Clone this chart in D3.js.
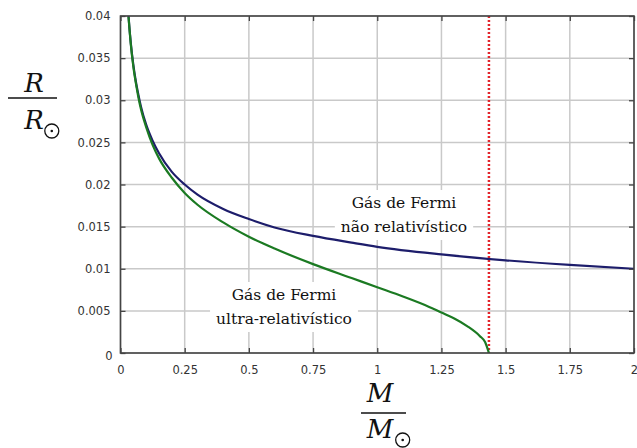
<!DOCTYPE html>
<html>
<head>
<meta charset="utf-8">
<script src="https://cdn.jsdelivr.net/npm/d3@7"></script>
<style>
  body { margin: 0; background: #fff; }
  .tick text { font-family: "DejaVu Sans", sans-serif; font-size: 11.5px; fill: #333; }
  .lbl { font-family: "DejaVu Serif", serif; font-size: 15.5px; fill: #111; }
  .axtitle { font-family: "DejaVu Serif", serif; font-style: italic; font-size: 26px; fill: #111; }
</style>
</head>
<body>
<script>
//// DATA
var massValues = [0.03125, 0.035, 0.04, 0.05, 0.06, 0.07, 0.08, 0.1, 0.125, 0.15, 0.2, 0.25, 0.3, 0.4, 0.5, 0.6, 0.75, 0.9, 1.0, 1.25, 1.5, 1.75, 2.0];
var radiusNonRel = [0.0400, 0.0385, 0.0368, 0.0342, 0.0322, 0.0306, 0.0292, 0.0271, 0.0252, 0.0237, 0.0215, 0.0200, 0.0188, 0.0171, 0.0159, 0.0149, 0.0139, 0.0131, 0.0126, 0.0117, 0.0110, 0.01045, 0.0100];

var massUltra = [0.03125, 0.04, 0.05, 0.06, 0.07, 0.08, 0.1, 0.125, 0.15, 0.2, 0.25, 0.3, 0.4, 0.5, 0.6, 0.75, 0.9, 1.0, 1.1, 1.2, 1.25, 1.3, 1.35, 1.4, 1.42, 1.435];
var radiusUltra = [0.0399, 0.0367, 0.0340, 0.0320, 0.0303, 0.0289, 0.0268, 0.0247, 0.0231, 0.0208, 0.0190, 0.0176, 0.0155, 0.0138, 0.0124, 0.01055, 0.0089, 0.0078, 0.0067, 0.0055, 0.0048, 0.0041, 0.0032, 0.0020, 0.0013, 0];

var chandraMass = 1.435;

var xTicks = [0, 0.25, 0.5, 0.75, 1, 1.25, 1.5, 1.75, 2];
var xTickLabels = ["0", "0.25", "0.5", "0.75", "1", "1.25", "1.5", "1.75", "2"];
var yTicks = [0, 0.005, 0.01, 0.015, 0.02, 0.025, 0.03, 0.035, 0.04];
var yTickLabels = ["0", "0.005", "0.01", "0.015", "0.02", "0.025", "0.03", "0.035", "0.04"];

var labelNonRel = ["Gás de Fermi", "não relativístico"];
var labelUltra = ["Gás de Fermi", "ultra-relativístico"];

//// LAYOUT
var margin = {top: 16, right: 3, bottom: 95, left: 120.5},
    width = 637 - margin.left - margin.right,
    height = 448 - margin.top - margin.bottom;

var xScale = d3.scaleLinear().domain([0, 2]).range([0, width]);
var yScale = d3.scaleLinear().domain([0, 0.04]).range([height, 0]);

var root = d3.select("body").append("svg")
    .attr("width", 637)
    .attr("height", 448);

var svg = root.append("g")
    .attr("transform", "translate(" + margin.left + "," + margin.top + ")");

svg.append("defs").append("clipPath").attr("id", "plotclip")
  .append("rect").attr("width", width).attr("height", height);

// Grid
svg.append("g").selectAll("line").data(xTicks).enter().append("line")
    .attr("x1", xScale).attr("x2", xScale)
    .attr("y1", 0).attr("y2", height)
    .attr("stroke", "#c9c9c9").attr("stroke-width", 1.5);
svg.append("g").selectAll("line").data(yTicks).enter().append("line")
    .attr("x1", 0).attr("x2", width)
    .attr("y1", yScale).attr("y2", yScale)
    .attr("stroke", "#c9c9c9").attr("stroke-width", 1.5);

// Text boxes (white background hides grid)
function textBlock(lines, cx, y0) {
  var g = svg.append("g");
  var bg = g.append("rect").attr("fill", "#fff");
  g.selectAll("text").data(lines).enter().append("text")
      .attr("class", "lbl")
      .attr("text-anchor", "middle")
      .attr("x", cx)
      .attr("y", function(d, i) { return y0 + i * 24; })
      .text(function(d) { return d; });
  var bb = g.node().getBBox();
  bg.attr("x", bb.x - 6).attr("y", bb.y - 4)
    .attr("width", bb.width + 12).attr("height", bb.height + 8);
}
textBlock(labelNonRel, 404 - margin.left, 208 - margin.top);
textBlock(labelUltra, 284 - margin.left, 300 - margin.top);

// Curves
var line = d3.line()
    .x(function(d) { return xScale(d[0]); })
    .y(function(d) { return yScale(d[1]); })
    .curve(d3.curveMonotoneX);

var curves = svg.append("g").attr("clip-path", "url(#plotclip)");

curves.append("line")
    .attr("x1", xScale(chandraMass)).attr("x2", xScale(chandraMass))
    .attr("y1", 0).attr("y2", height)
    .attr("stroke", "#e3242b").attr("stroke-width", 2.5)
    .attr("stroke-dasharray", "2,2");

curves.append("path")
    .datum(d3.zip(massValues, radiusNonRel))
    .attr("d", line)
    .attr("fill", "none").attr("stroke", "#1d1d6b").attr("stroke-width", 2.2);

curves.append("path")
    .datum(d3.zip(massUltra, radiusUltra))
    .attr("d", line)
    .attr("fill", "none").attr("stroke", "#1b7a22").attr("stroke-width", 2.2);

// Axes with inward ticks
var xAxis = d3.axisBottom(xScale).tickValues(xTicks)
    .tickFormat(function(d, i) { return xTickLabels[i]; })
    .tickSizeInner(-5).tickSizeOuter(0).tickPadding(13);
var yAxis = d3.axisLeft(yScale).tickValues(yTicks)
    .tickFormat(function(d, i) { return yTickLabels[i]; })
    .tickSizeInner(-5).tickSizeOuter(0).tickPadding(10);

var axBottom = svg.append("g")
    .attr("transform", "translate(0," + height + ")")
    .call(xAxis);
var axLeft = svg.append("g").call(yAxis);
var axTop = svg.append("g").call(d3.axisTop(xScale).tickValues(xTicks).tickFormat("")
    .tickSizeInner(-5).tickSizeOuter(0));
var axRight = svg.append("g").attr("transform", "translate(" + width + ",0)")
    .call(d3.axisRight(yScale).tickValues(yTicks).tickFormat("")
    .tickSizeInner(-5).tickSizeOuter(0));

[axBottom, axLeft, axTop, axRight].forEach(function(a) {
  a.select(".domain").remove();
  a.selectAll(".tick line").attr("stroke", "#444").attr("stroke-width", 1.3);
});
axLeft.selectAll(".tick").filter(function(d) { return d === 0; }).select("text")
    .attr("dy", "0.6em").attr("x", -8);

// Frame
svg.append("rect")
    .attr("width", width).attr("height", height)
    .attr("fill", "none").attr("stroke", "#444").attr("stroke-width", 1.6);

//// AXIS TITLES (fractions)
function fracTitle(sym, cx, yNum, yLine, yDen, x1, x2) {
  root.append("text").attr("class", "axtitle")
      .attr("x", cx).attr("y", yNum).attr("text-anchor", "middle").text(sym);
  root.append("line")
      .attr("x1", x1).attr("x2", x2).attr("y1", yLine).attr("y2", yLine)
      .attr("stroke", "#111").attr("stroke-width", 1.6);
  var den = root.append("text").attr("class", "axtitle")
      .attr("x", cx).attr("y", yDen).attr("text-anchor", "middle").text(sym);
  var bb = den.node().getBBox();
  var sx = bb.x + bb.width + 8, sy = yDen + 2;
  root.append("circle").attr("cx", sx).attr("cy", sy).attr("r", 7)
      .attr("fill", "none").attr("stroke", "#111").attr("stroke-width", 1.3);
  root.append("circle").attr("cx", sx).attr("cy", sy).attr("r", 1.3).attr("fill", "#111");
}
fracTitle("R", 34, 92, 98, 129, 8, 57);
fracTitle("M", 380, 402, 413, 438, 361, 406);
</script>
</body>
</html>
